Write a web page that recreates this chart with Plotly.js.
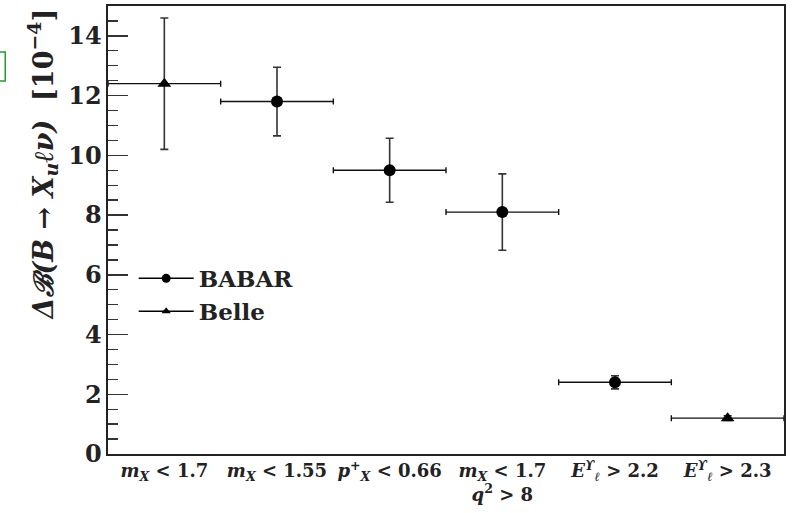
<!DOCTYPE html>
<html>
<head>
<meta charset="utf-8">
<script src="https://cdn.plot.ly/plotly-3.0.1.min.js"></script>
<style>html,body{margin:0;padding:0;background:#fff;}</style>
</head>
<body>
<div id="chart" style="width:793px;height:513px;"></div>
<script>
// Categories (measurement regions)
const categories = [
  "<i>m<sub>X</sub></i> < 1.7",
  "<i>m<sub>X</sub></i> < 1.55",
  "<i>p<sup>+</sup><sub>X</sub></i> < 0.66",
  "<i>m<sub>X</sub></i> < 1.7<br><i>q</i><sup>2</sup> > 8",
  "<i>E<sup>ϒ</sup><sub>ℓ</sub></i> > 2.2",
  "<i>E<sup>ϒ</sup><sub>ℓ</sub></i> > 2.3"
];
// Category index of each experiment's points
const babarIdx = [1, 2, 3, 4];
const babarVal = [11.8, 9.5, 8.1, 2.4];
const babarErr = [1.15, 1.07, 1.28, 0.22];
const belleIdx = [0, 5];
const belleVal = [12.4, 1.2];
const belleErr = [2.2, 0.08];
const binHalfWidth = 0.5;

const xPos = idx => idx.map(i => i + 0.5);
const tickVals = categories.map((c, i) => i + 0.5);

const errY = arr => ({type:'data', array:arr, visible:true, color:'#333', thickness:1.6, width:4});
const errX = {type:'constant', value:binHalfWidth, visible:true, color:'#111', thickness:1.4, width:3};

const traces = [
  {x:xPos(babarIdx), y:babarVal, type:'scatter', mode:'markers', showlegend:false,
   marker:{symbol:'circle', size:12, color:'#000'}, error_y:errY(babarErr), error_x:errX},
  {x:xPos(belleIdx), y:belleVal, type:'scatter', mode:'markers', showlegend:false,
   marker:{symbol:'triangle-up', size:12, color:'#000'}, error_y:errY(belleErr), error_x:errX},
  {x:[null], y:[null], type:'scatter', mode:'lines+markers', name:'BABAR',
   line:{color:'#000', width:1.5}, marker:{symbol:'circle', size:9, color:'#000'}},
  {x:[null], y:[null], type:'scatter', mode:'lines+markers', name:'Belle',
   line:{color:'#000', width:1.5}, marker:{symbol:'triangle-up', size:8, color:'#000'}}
];

const serif = '"DejaVu Serif", serif';
const layout = {
  width:793, height:513,
  margin:{l:108, r:9, t:6, b:59},
  paper_bgcolor:'#fff', plot_bgcolor:'#fff',
  font:{family:serif, color:'#222'},
  xaxis:{range:[0,6], tickvals:tickVals, ticktext:categories, ticks:'', showgrid:false, zeroline:false,
         showline:true, linecolor:'#222', linewidth:1.6, mirror:true,
         tickfont:{family:serif, size:18, color:'#222', weight:'bold'}},
  yaxis:{range:[0,15], dtick:2, ticks:'inside', ticklen:20, tickwidth:1.5, tickcolor:'#333',
         minor:{dtick:0.5, ticks:'inside', ticklen:10, tickwidth:1.3, tickcolor:'#333', showgrid:false},
         showgrid:false, zeroline:false, showline:true, linecolor:'#222', linewidth:1.6, mirror:true,
         tickfont:{family:serif, size:24, color:'#222', weight:'bold'}},
  showlegend:true,
  legend:{x:0.038, y:0.44, xanchor:'left', yanchor:'top', bgcolor:'rgba(0,0,0,0)',
          font:{family:serif, size:23, color:'#222', weight:'bold'}, itemwidth:55, tracegroupgap:0},
  annotations:[{xref:'paper', yref:'paper', x:-0.097, y:1.0, xanchor:'center', yanchor:'top',
    textangle:-90, showarrow:false,
    text:'<b><i>Δℬ(B → X<sub>u</sub>ℓν)</i>  [10<sup>−4</sup>]</b>',
    font:{family:serif, size:27, color:'#222'}}],
  shapes:[{type:'rect', xref:'paper', yref:'paper', x0:-0.175, x1:-0.152, y0:(454-81)/448, y1:(454-52)/448,
    line:{color:'#2a9a2a', width:1.5}, fillcolor:'rgba(0,0,0,0)'}]
};

Plotly.newPlot('chart', traces, layout, {displayModeBar:false, staticPlot:true});
</script>
</body>
</html>
